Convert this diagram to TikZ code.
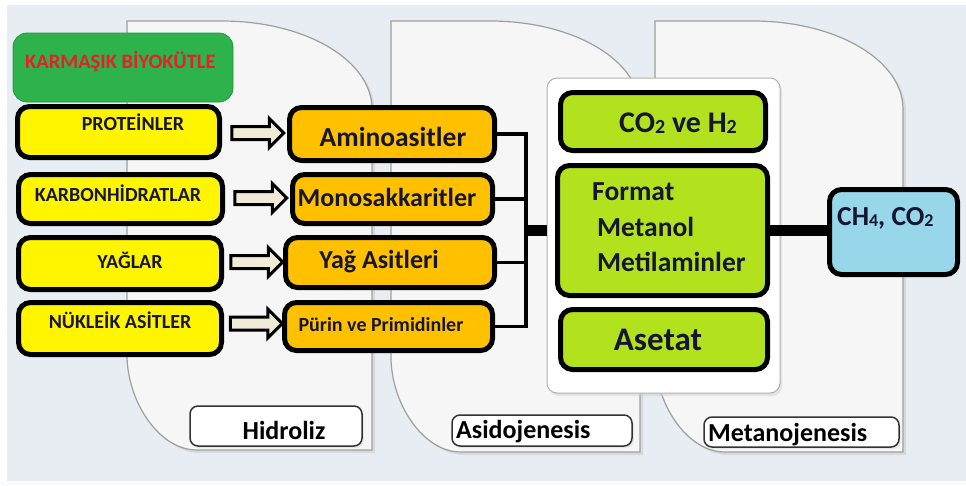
\documentclass[tikz,border=0pt]{standalone}
\usepackage{fontspec}
\usepackage{pdfrender}
\setmainfont{Carlito}
\usetikzlibrary{shapes.arrows,shadows,calc}
\definecolor{bgc}{RGB}{232,237,243}
\definecolor{panelc}{RGB}{246,246,246}
\definecolor{topgreen}{RGB}{45,178,76}
\definecolor{yel}{RGB}{255,245,0}
\definecolor{org}{RGB}{255,192,0}
\definecolor{lime}{RGB}{178,226,30}
\definecolor{sky}{RGB}{152,214,234}
\definecolor{cream}{RGB}{240,235,215}
\definecolor{navy}{RGB}{22,22,50}
\definecolor{redtxt}{RGB}{232,30,40}
\begin{document}
\begin{tikzpicture}[x=1pt,y=-1pt,
  panel/.style={fill=panelc, draw=gray!75, line width=1.2pt,
    drop shadow={shadow xshift=3pt,shadow yshift=-3pt,fill=black!22}},
  ybox/.style={draw=black, line width=5pt, rounded corners=12pt, fill=yel, inner sep=0pt},
  obox/.style={ybox, fill=org},
  gbox/.style={ybox, fill=lime},
  bbox/.style={ybox, fill=sky},
  txt/.style={text=navy, font=\bfseries\fontsize{20}{24}\selectfont, inner sep=0pt},
  big/.style={text=navy, font=\bfseries\fontsize{26}{30}\selectfont, inner sep=0pt},
  bigger/.style={text=navy, font=\bfseries\fontsize{27.5}{32}\selectfont, inner sep=0pt},
  huge/.style={text=navy, font=\bfseries\fontsize{33}{36}\selectfont, inner sep=0pt},
  blockarrow/.style={single arrow, draw=black, line width=3pt, fill=cream,
    inner sep=5pt, single arrow head extend=8pt, minimum height=52pt},
  lbl/.style={draw=gray!40!black, line width=1.5pt, rounded corners=8pt, fill=white, inner sep=0pt,
    drop shadow={shadow xshift=2pt,shadow yshift=-2pt,fill=black!15}},
  lbltxt/.style={text=black, font=\bfseries\fontsize{26}{30}\selectfont, inner sep=0pt},
  bracket/.style={draw=black, line width=3.5pt},
  thick line/.style={draw=black, line width=11pt}
]
\useasboundingbox (0,0) rectangle (966,485);
\fill[bgc] (0,0) rectangle (966,485);
\fill[white] (0,0) rectangle (966,5);
\fill[white] (0,0) rectangle (7,485);
\fill[white!85!bgc] (0,481) rectangle (966,485);

% phase panels
\path[panel] (127,21) -- (222,21) .. controls (305,21) and (372,60) .. (372,109)
  -- (372,450) -- (197,450) .. controls (158,450) and (127,400) .. (127,355) -- cycle;
\path[panel] (391,21) -- (490,21) .. controls (573,21) and (640,60) .. (640,109)
  -- (640,452) -- (461,452) .. controls (422,452) and (391,402) .. (391,357) -- cycle;
\path[panel] (655,21) -- (753,21) .. controls (836,21) and (903,60) .. (903,109)
  -- (903,452) -- (725,452) .. controls (686,452) and (655,402) .. (655,357) -- cycle;

% phase labels
\node[lbl, minimum width=172pt, minimum height=40pt] (hid) at (276,426) {};
\node[lbltxt] (hidt) at (284,430) {Hidroliz};
\node[lbl, minimum width=180pt, minimum height=31pt] (asi) at (542,430.5) {};
\node[lbltxt, anchor=west] (asit) at (456,432) {Asidojenesis};
\node[lbl, minimum width=195pt, minimum height=30pt] (met) at (801.5,432) {};
\node[lbltxt, anchor=west] (mett) at (708,435) {Metanojenesis};

% container of acidogenesis products
\node[draw=gray!60, line width=1pt, fill=white, rounded corners=10pt, minimum width=233pt,
  minimum height=315pt, inner sep=0pt,
  drop shadow={shadow xshift=2pt,shadow yshift=-3pt,fill=black!18}] (cont) at (663.5,235.5) {};

% complex biomass
\node[fill=topgreen, draw=topgreen!85!black, line width=0.8pt, rounded corners=14pt,
  minimum width=220pt, minimum height=69pt, inner sep=0pt] (kb) at (123,67.5) {};
\node[anchor=west, text=redtxt, font=\bfseries\fontsize{20.5}{24}\selectfont, inner sep=0pt] (kbt) at (25,62)
  {\textpdfrender{TextRenderingMode=FillStroke, LineWidth=0.7, StrokeColor=white}{KARMAŞIK BİYOKÜTLE}};

% polymers
\node[ybox, minimum width=202pt, minimum height=51pt] (prot) at (118.5,132) {};
\node[txt] (prott) at (133,122) {PROTEİNLER};
\node[ybox, minimum width=204pt, minimum height=49pt] (karb) at (120.5,199) {};
\node[txt] (karbt) at (118,193) {KARBONHİDRATLAR};
\node[ybox, minimum width=203pt, minimum height=52pt] (yag) at (120,263.5) {};
\node[txt] (yagt) at (130,260) {YAĞLAR};
\node[ybox, minimum width=203pt, minimum height=52pt] (nuk) at (120,328.5) {};
\node[txt] (nukt) at (120,320) {NÜKLEİK ASİTLER};

% monomers
\node[obox, minimum width=205pt, minimum height=53pt] (ami) at (392,134) {};
\node[bigger] (amit) at (393,137) {Aminoasitler};
\node[obox, minimum width=200pt, minimum height=49pt] (mono) at (392.5,199) {};
\node[big] (monot) at (387,197) {Monosakkaritler};
\node[obox, minimum width=209pt, minimum height=50pt] (yaga) at (390,262.5) {};
\node[big] (yagat) at (379,262) {Yağ Asitleri};
\node[obox, minimum width=208pt, minimum height=48pt] (pur) at (388.5,326.5) {};
\node[txt] (purt) at (381,325) {Pürin ve Primidinler};

% hydrolysis arrows
\node[blockarrow] (a1) at ($(prot.east)!0.5!(ami.west)$) {};
\node[blockarrow] (a2) at ($(karb.east)!0.5!(mono.west)+(0,-1)$) {};
\node[blockarrow] (a3) at ($(yag.east)!0.5!(yaga.west)+(0,-1)$) {};
\node[blockarrow] (a4) at ($(nuk.east)!0.5!(pur.west)+(0,-4)$) {};

% bracket
\coordinate (brk) at (526,230);
\draw[bracket] (ami.east) -- (ami.east -| brk);
\draw[bracket] (mono.east) -- (mono.east -| brk);
\draw[bracket] (yaga.east) -- (yaga.east -| brk);
\draw[bracket] (pur.east) -- (pur.east -| brk);
\draw[bracket] ([yshift=1.75pt]ami.east -| brk) -- ([yshift=-1.75pt]pur.east -| brk);
\draw[thick line] (brk) -- (brk -| cont.west);

% acidogenesis products
\node[gbox, minimum width=205pt, minimum height=58pt] (co) at (663,121.5) {};
\node[text=navy, font=\bfseries\fontsize{30}{34}\selectfont, inner sep=0pt] (cot) at (678,123)
  {CO{\fontsize{20}{20}\selectfont\raisebox{-1pt}{2}} ve H{\fontsize{20}{20}\selectfont\raisebox{-1pt}{2}}};
\node[gbox, minimum width=210pt, minimum height=130pt] (mid) at (662.5,230.5) {};
\node[bigger, anchor=west] (f1) at (592,192) {Format};
\node[bigger, anchor=west] (f2) at (597,227) {Metanol};
\node[bigger, anchor=west] (f3) at (597,262) {Metilaminler};
\node[gbox, minimum width=207pt, minimum height=60pt] (ase) at (664,339.5) {};
\node[huge] (aset) at (658,340) {Asetat};

% methane
\node[bbox, minimum width=128pt, minimum height=85pt] (ch) at (893.5,232) {};
\node[bigger, anchor=west] (cht) at (837,218)
  {CH{\fontsize{18}{18}\selectfont\raisebox{-1pt}{4}}, CO{\fontsize{18}{18}\selectfont\raisebox{-1pt}{2}}};
\draw[thick line] (mid.east |- 0,230) -- (ch.west |- 0,230);
\end{tikzpicture}
\end{document}
